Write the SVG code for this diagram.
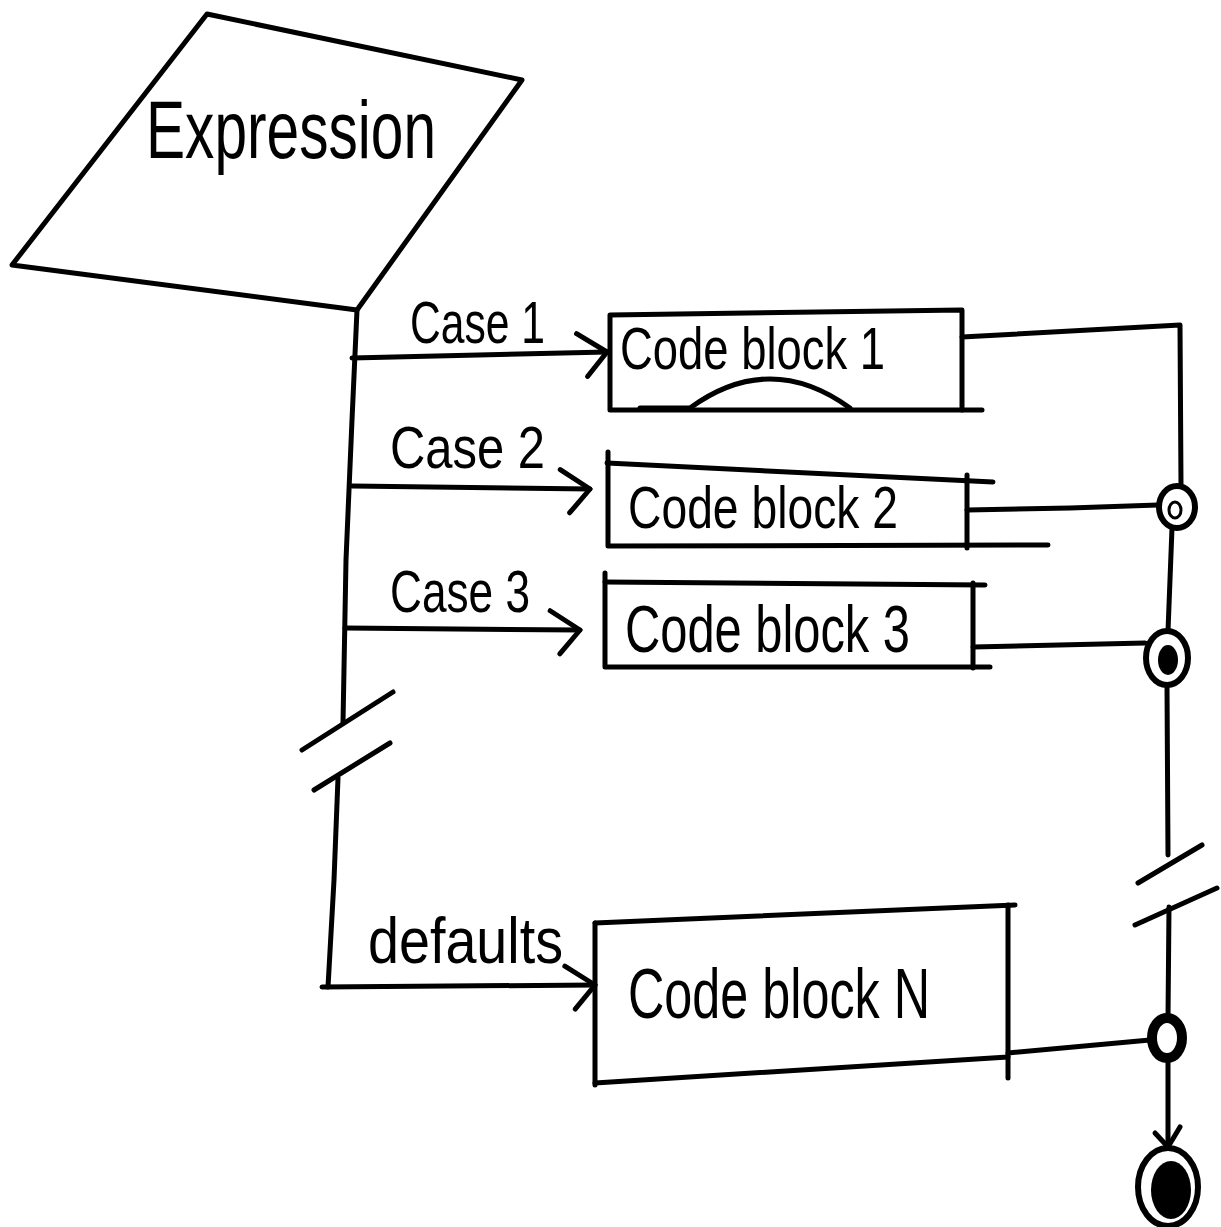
<svg xmlns="http://www.w3.org/2000/svg" width="1221" height="1227" viewBox="0 0 1221 1227">
<style>
.ln{fill:none;stroke:#000;stroke-width:5;stroke-linecap:round;stroke-linejoin:round}
.txt{font-family:"Liberation Sans","DejaVu Sans",sans-serif;fill:#000}
.lbl{font-size:60px}
.cb{font-size:60px}
</style>
<defs>
<marker id="chev" markerUnits="userSpaceOnUse" markerWidth="60" markerHeight="60" viewBox="-40 -30 50 60" refX="0" refY="0" orient="auto">
<path d="M-30,-19 L0,0 L-20,24" fill="none" stroke="#000" stroke-width="5" stroke-linecap="round" stroke-linejoin="round"/>
</marker>
</defs>
<rect width="1221" height="1227" fill="#fff"/>

<g id="expression">
<polygon class="ln" points="207,14 522,80 357,310 12,265"/>
<text class="txt" x="146" y="158" font-size="82" textLength="290" lengthAdjust="spacingAndGlyphs">Expression</text>
</g>

<g id="connectors">
<!-- main left trunk -->
<polyline class="ln" points="357,310 352,420 346,560 343,723"/>
<polyline class="ln" points="302,750 393,692"/>
<polyline class="ln" points="314,790 390,743"/>
<polyline class="ln" points="338,778 334,880 328,987"/>
<!-- case arrows -->
<line class="ln" x1="352" y1="358" x2="607" y2="352" marker-end="url(#chev)"/>
<line class="ln" x1="352" y1="486" x2="590" y2="489" marker-end="url(#chev)"/>
<line class="ln" x1="345" y1="628" x2="580" y2="630" marker-end="url(#chev)"/>
<line class="ln" x1="322" y1="987" x2="595" y2="985" marker-end="url(#chev)"/>
<!-- outputs -->
<polyline class="ln" points="962,337 1180,325 1181,486"/>
<polyline class="ln" points="967,510 1070,508 1158,505"/>
<polyline class="ln" points="973,647 1145,643"/>
<polyline class="ln" points="1008,1053 1150,1040"/>
<!-- right trunk -->
<line class="ln" x1="1172" y1="528" x2="1168" y2="631"/>
<line class="ln" x1="1167" y1="686" x2="1168" y2="855"/>
<polyline class="ln" points="1138,883 1202,845"/>
<polyline class="ln" points="1135,925 1217,888"/>
<line class="ln" x1="1169" y1="907" x2="1168" y2="1017"/>
<line class="ln" x1="1168" y1="1060" x2="1168" y2="1147"/>
<polyline class="ln" points="1155,1133 1168,1147 1180,1127"/>
</g>

<g id="labels">
<text class="txt lbl" x="410" y="343" textLength="135" lengthAdjust="spacingAndGlyphs">Case 1</text>
<text class="txt lbl" x="390" y="468" textLength="155" lengthAdjust="spacingAndGlyphs">Case 2</text>
<text class="txt lbl" x="390" y="612" textLength="140" lengthAdjust="spacingAndGlyphs">Case 3</text>
<text class="txt" x="368" y="963" font-size="64" textLength="195" lengthAdjust="spacingAndGlyphs">defaults</text>
</g>

<g id="block1">
<polyline class="ln" points="610,315 962,310 962,410 610,410 610,315"/>
<line class="ln" x1="962" y1="410" x2="982" y2="410"/>
<path class="ln" d="M640,408 L690,408 Q770,350 850,408"/>
<text class="txt cb" x="620" y="369" textLength="265" lengthAdjust="spacingAndGlyphs">Code block 1</text>
</g>

<g id="block2">
<polyline class="ln" points="607,463 993,482"/>
<polyline class="ln" points="608,452 608,546 1048,545"/>
<line class="ln" x1="967" y1="475" x2="967" y2="548"/>
<text class="txt cb" x="628" y="528" textLength="270" lengthAdjust="spacingAndGlyphs">Code block 2</text>
</g>

<g id="block3">
<polyline class="ln" points="605,582 985,585"/>
<polyline class="ln" points="605,573 605,667 990,667"/>
<line class="ln" x1="973" y1="583" x2="973" y2="668"/>
<text class="txt" x="625" y="652" font-size="66" textLength="285" lengthAdjust="spacingAndGlyphs">Code block 3</text>
</g>

<g id="blockN">
<polyline class="ln" points="595,923 1015,905"/>
<polyline class="ln" points="595,923 595,1085"/>
<polyline class="ln" points="595,1083 1008,1057"/>
<line class="ln" x1="1008" y1="905" x2="1008" y2="1078"/>
<text class="txt" x="628" y="1018" font-size="70" textLength="302" lengthAdjust="spacingAndGlyphs">Code block N</text>
</g>

<g id="merge1">
<ellipse cx="1177" cy="507" rx="18" ry="21" fill="#fff" stroke="#000" stroke-width="6"/>
<ellipse cx="1175" cy="510" rx="6" ry="8" fill="none" stroke="#000" stroke-width="3"/>
</g>

<g id="merge2">
<ellipse cx="1167" cy="658" rx="21" ry="27" fill="#fff" stroke="#000" stroke-width="6"/>
<ellipse cx="1168" cy="660" rx="10" ry="15" fill="#000"/>
</g>

<g id="merge3">
<ellipse cx="1167" cy="1038" rx="15" ry="20" fill="#fff" stroke="#000" stroke-width="10"/>
<ellipse cx="1170" cy="1039" rx="5" ry="9" fill="#fff"/>
</g>

<g id="end">
<ellipse cx="1168" cy="1187" rx="30" ry="39" fill="#fff" stroke="#000" stroke-width="6"/>
<ellipse cx="1171" cy="1190" rx="20" ry="29" fill="#000"/>
</g>
</svg>
